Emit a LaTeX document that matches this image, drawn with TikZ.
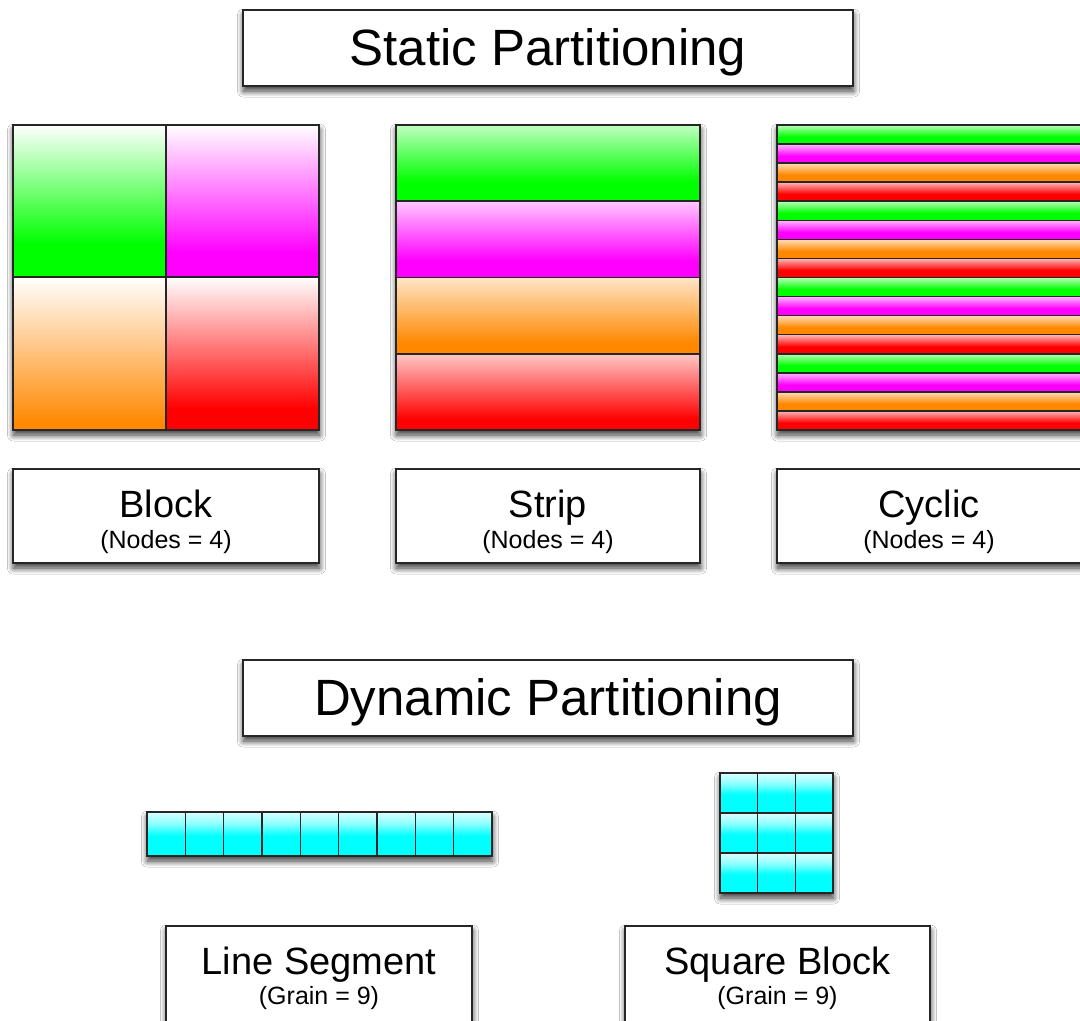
\documentclass[tikz,border=0pt]{standalone}
\usepackage{fontspec}
\setmainfont{Liberation Sans}
\usetikzlibrary{shadows.blur}

% base colours of the partitions
\definecolor{pgreen}{RGB}{0,255,0}
\definecolor{pmag}{RGB}{255,0,255}
\definecolor{porange}{RGB}{255,136,0}
\definecolor{pred}{RGB}{255,0,0}
\definecolor{pcyan}{RGB}{0,255,255}
\colorlet{pgreenS}{pgreen!25!white}
\colorlet{pmagS}{pmag!22!white}
\colorlet{porangeS}{porange!22!white}
\colorlet{predS}{pred!22!white}
\colorlet{pgreenC}{pgreen!28!white}
\colorlet{pmagC}{pmag!28!white}
\colorlet{porangeC}{porange!28!white}
\colorlet{predC}{pred!28!white}
\colorlet{pcyanL}{pcyan!14!white}
\colorlet{pcyanM}{pcyan!45!white}
\colorlet{gradtop}{white}

% vertical gradient: full colour from the bottom up to #3, light colour #4 at the top
% (the filled area spans 25bp to 75bp of the shading)
\newcommand\declgrad[4]{%
  \pgfdeclareverticalshading{#1}{100bp}{color(0bp)=(#2); color(#3)=(#2); color(75bp)=(#4); color(100bp)=(#4)}}
% block quadrants
\declgrad{gA}{pgreen}{36bp}{gradtop}
\declgrad{mA}{pmag}{33bp}{gradtop}
\declgrad{oA}{porange}{27bp}{gradtop}
\declgrad{rA}{pred}{32bp}{gradtop}
% horizontal strips
\declgrad{gS}{pgreen}{38bp}{pgreenS}
\declgrad{mS}{pmag}{36bp}{pmagS}
\declgrad{oS}{porange}{32bp}{porangeS}
\declgrad{rS}{pred}{32bp}{predS}
% cyclic rows
\declgrad{gC}{pgreen}{44bp}{pgreenC}
\declgrad{mC}{pmag}{44bp}{pmagC}
\declgrad{oC}{porange}{44bp}{porangeC}
\declgrad{rC}{pred}{44bp}{predC}
% grain cells: pale top, fully cyan from just above the middle down
\pgfdeclareverticalshading{cy}{100bp}{color(0bp)=(pcyan); color(48bp)=(pcyan);
  color(62bp)=(pcyanM); color(75bp)=(pcyanL); color(100bp)=(pcyanL)}

\begin{document}
\begin{tikzpicture}[x=1pt,y=-1pt,
  shadowed/.style={blur shadow={shadow xshift=0.5pt, shadow yshift=-5pt,
      shadow blur radius=6pt, shadow blur steps=12, shadow opacity=80}},
  panel/.style={draw=black!85, line width=1.6pt, fill=white, shadowed,
      inner sep=0pt, outer sep=0pt},
  cellline/.style={draw=black!85, line width=1.6pt},
  headtext/.style={inner sep=0pt, anchor=base, font=\fontsize{51}{60}\selectfont},
  nametext/.style={inner sep=0pt, anchor=base, font=\fontsize{38}{44}\selectfont},
  subtext/.style={inner sep=0pt, anchor=base, font=\fontsize{25}{30}\selectfont}]

\useasboundingbox (0,0) rectangle (1080,1021);
\clip (0,0) rectangle (1080,1021);
\fill[white] (0,0) rectangle (1080,1021);

% ---------- Static partitioning ----------
\node[panel, minimum width=610pt, minimum height=76pt] (static) at (548,48) {};
\node[headtext] (staticT) at (548,65) {Static Partitioning};

% Block: 2 x 2 quadrants
\fill[white, shadowed] (13,125) rectangle (319,430);
\shade[shading=gA] (13,125) rectangle (166,277);
\shade[shading=mA] (166,125) rectangle (319,277);
\shade[shading=oA] (13,277) rectangle (166,430);
\shade[shading=rA] (166,277) rectangle (319,430);
\draw[cellline] (166,125) -- (166,430) (13,277) -- (319,277);
\draw[cellline] (13,125) rectangle (319,430);

% Strip: 4 horizontal bands
\fill[white, shadowed] (396,125) rectangle (700,430);
\foreach \c [count=\k from 0] in {gS,mS,oS,rS}
  \shadedraw[shading=\c, cellline] (396,{125+\k*76.25}) rectangle (700,{125+(\k+1)*76.25});
\draw[cellline] (396,125) rectangle (700,430);

% Cyclic: 16 thin rows in turn
\fill[white, shadowed] (777,125) rectangle (1090,430);
\foreach \j in {0,...,3}
  \foreach \c [count=\k from 0] in {gC,mC,oC,rC}
    \shadedraw[shading=\c, cellline] (777,{125+(4*\j+\k)*19.0625}) rectangle (1090,{125+(4*\j+\k+1)*19.0625});
\draw[cellline] (777,125) rectangle (1090,430);

% captions of the static schemes
\node[panel, minimum width=306pt, minimum height=94pt] (blockL) at (166,516) {};
\node[nametext] (blockT) at (166,517) {Block};
\node[subtext] (blockS) at (166,548) {(Nodes = 4)};

\node[panel, minimum width=304pt, minimum height=94pt] (stripL) at (548,516) {};
\node[nametext] (stripT) at (548,517) {Strip};
\node[subtext] (stripS) at (548,548) {(Nodes = 4)};

\node[panel, minimum width=306pt, minimum height=94pt] (cyclicL) at (930,516) {};
\node[nametext] (cyclicT) at (929,517) {Cyclic};
\node[subtext] (cyclicS) at (929,548) {(Nodes = 4)};

% ---------- Dynamic partitioning ----------
\node[panel, minimum width=610pt, minimum height=76pt] (dynamic) at (548,698) {};
\node[headtext] (dynamicT) at (548,715) {Dynamic Partitioning};

% Line segment: 9 cells in a row
\fill[white, shadowed] (147,812) rectangle (492,856);
\foreach \i in {0,...,8}
  \shadedraw[shading=cy, cellline] ({147+\i*38.333},812) rectangle ({147+(\i+1)*38.333},856);

% Square block: 3 x 3 cells
\fill[white, shadowed] (720,773) rectangle (833,893);
\foreach \r in {0,1,2}
  \foreach \i in {0,1,2}
    \shadedraw[shading=cy, cellline] ({720+\i*37.667},{773+\r*40}) rectangle ({720+(\i+1)*37.667},{773+(\r+1)*40});

% captions of the dynamic schemes
\node[panel, minimum width=306pt, minimum height=104pt] (lineL) at (319,978) {};
\node[nametext] (lineT) at (319,974) {Line Segment};
\node[subtext] (lineS) at (319,1004) {(Grain = 9)};

\node[panel, minimum width=305pt, minimum height=104pt] (squareL) at (777.5,978) {};
\node[nametext] (squareT) at (777.5,974) {Square Block};
\node[subtext] (squareS) at (777.5,1004) {(Grain = 9)};
\end{tikzpicture}
\end{document}
